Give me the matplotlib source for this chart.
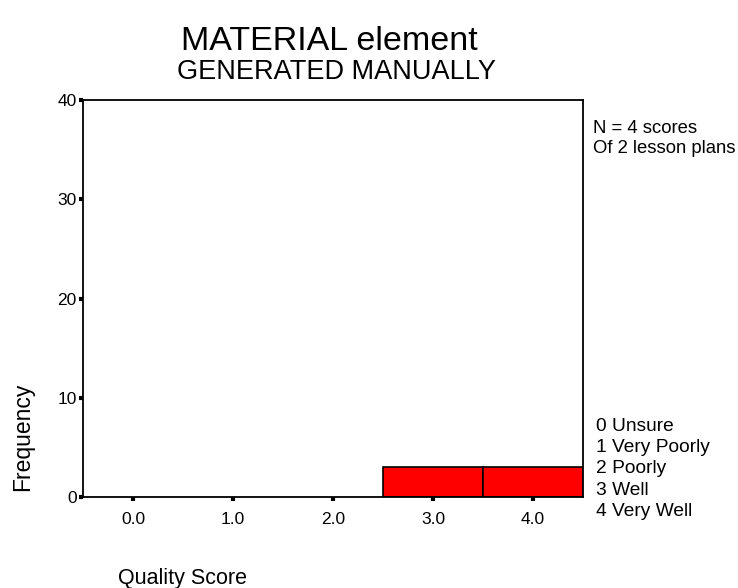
import matplotlib
matplotlib.use("Agg")
import matplotlib.pyplot as plt

plt.rcParams['font.family'] = ['Liberation Sans', 'DejaVu Sans']

# data
scores = [3.0, 4.0]
counts = [3, 3]
xticks = [0.0, 1.0, 2.0, 3.0, 4.0]
xlabels = ['0.0', '1.0', '2.0', '3.0', '4.0']
yticks = [0, 10, 20, 30, 40]
scale_labels = ['0 Unsure', '1 Very Poorly', '2 Poorly', '3 Well', '4 Very Well']

fig = plt.figure(figsize=(7.38, 5.88), dpi=100)
ax = fig.add_axes([0.1125, 0.1548, 0.6775, 0.675])

ax.bar(scores, counts, width=1.0, color='#ff0000', edgecolor='black', linewidth=1.2)
ax.set_xlim(-0.5, 4.5)
ax.set_ylim(0, 40)
ax.set_xticks(xticks)
ax.set_xticklabels(xlabels)
ax.set_yticks(yticks)
ax.tick_params(direction='out', length=3, width=3, labelsize=12.5)
ax.tick_params(axis='x', pad=8)
ax.tick_params(axis='y', pad=1.5)
for s in ax.spines.values():
    s.set_linewidth(1.3)

fig.text(0.446, 0.93, 'MATERIAL element', ha='center', va='center', fontsize=24.5)
fig.text(0.456, 0.878, 'GENERATED MANUALLY', ha='center', va='center', fontsize=19.5)
fig.text(0.03, 0.257, 'Frequency', rotation=90, ha='center', va='center', fontsize=16.5)
fig.text(0.16, 0.017, 'Quality Score', ha='left', va='center', fontsize=15.5)

fig.text(0.803, 0.782, 'N = 4 scores', ha='left', va='center', fontsize=13.3)
fig.text(0.803, 0.748, 'Of 2 lesson plans', ha='left', va='center', fontsize=13.3)
for i, lab in enumerate(scale_labels):
    fig.text(0.808, 0.275 - i * 0.0362, lab, ha='left', va='center', fontsize=13.8)

fig.savefig('out.png', dpi=100)
